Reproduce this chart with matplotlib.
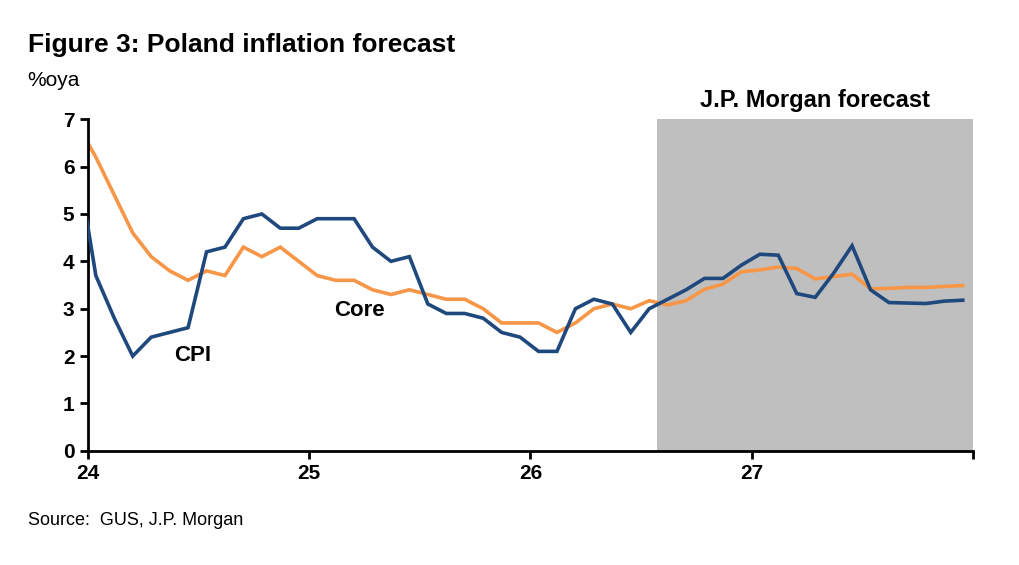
import matplotlib
matplotlib.use("Agg")
import matplotlib.pyplot as plt
import numpy as np

plt.rcParams['font.family'] = ['Liberation Sans Narrow', 'Liberation Sans', 'DejaVu Sans']

# monthly index: 0 = Dec 2023 ... 48 = Dec 2027
cpi = [6.1, 3.7, 2.8, 2.0, 2.4, 2.5, 2.6, 4.2, 4.3, 4.9, 5.0, 4.7, 4.7,
       4.9, 4.9, 4.9, 4.3, 4.0, 4.1, 3.1, 2.9, 2.9, 2.8, 2.5, 2.4, 2.1, 2.1,
       3.0, 3.2, 3.1, 2.5, 3.0, 3.2, 3.4, 3.64, 3.64, 3.92, 4.15, 4.13, 3.32,
       3.24, 3.75, 4.33, 3.4, 3.13, 3.12, 3.11, 3.16, 3.18]
core = [6.9, 6.2, 5.4, 4.6, 4.1, 3.8, 3.6, 3.8, 3.7, 4.3, 4.1, 4.3, 4.0,
        3.7, 3.6, 3.6, 3.4, 3.3, 3.4, 3.3, 3.2, 3.2, 3.0, 2.7, 2.7, 2.7, 2.5,
        2.7, 3.0, 3.1, 3.0, 3.17, 3.08, 3.17, 3.41, 3.52, 3.78, 3.82, 3.88, 3.85,
        3.63, 3.68, 3.73, 3.42, 3.43, 3.45, 3.45, 3.47, 3.49]
year_labels = ['24', '25', '26', '27', '']
year_pos = [0.56, 12.56, 24.56, 36.56, 48.56]
forecast_start = 31.45

x = np.arange(len(cpi))
fig = plt.figure(figsize=(10.2, 5.65), dpi=100)
ax = fig.add_axes([0.086, 0.202, 0.868, 0.587])
ax.axvspan(forecast_start, 48.56, color='#BFBFBF', lw=0, zorder=0)
ax.plot(x, cpi, color='#1F497D', lw=2.6, zorder=3, solid_joinstyle='miter')
ax.plot(x, core, color='#F79646', lw=2.6, zorder=2, solid_joinstyle='miter')
ax.set_xlim(0.56, 48.56)
ax.set_ylim(0, 7)
ax.set_yticks(range(8))
ax.set_xticks(year_pos)
ax.set_xticklabels(year_labels)
for s in ['top', 'right']:
    ax.spines[s].set_visible(False)
for s in ['left', 'bottom']:
    ax.spines[s].set_linewidth(2)
ax.tick_params(axis='both', direction='out', width=2, length=6, labelsize=15)
for t in ax.get_xticklabels() + ax.get_yticklabels():
    t.set_fontweight('bold')
ax.text(6.25, 2.02, 'CPI', fontsize=16, fontweight='bold', va='center', ha='center')
ax.text(15.3, 2.97, 'Core', fontsize=16, fontweight='bold', va='center', ha='center')
ax.text(40.0, 7.15, 'J.P. Morgan forecast', fontsize=17, fontweight='bold', ha='center', va='bottom')

fig.text(0.027, 0.92, 'Figure 3: Poland inflation forecast', fontsize=19, fontweight='bold', va='center')
fig.text(0.027, 0.858, '%oya', fontsize=15, va='center')
fig.text(0.027, 0.079, 'Source:  GUS, J.P. Morgan', fontsize=13, va='center')
fig.savefig('out.png', dpi=100)
